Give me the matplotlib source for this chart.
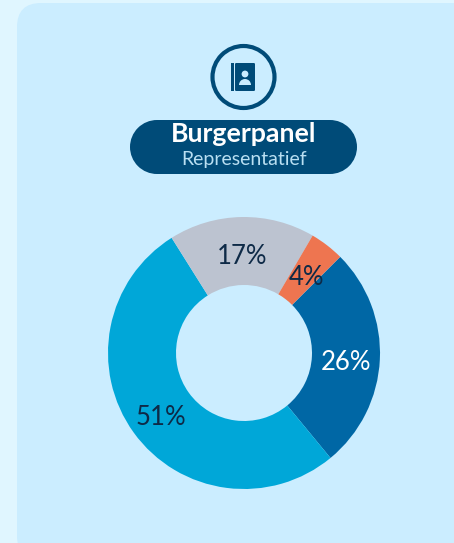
import matplotlib
matplotlib.use('Agg')
import matplotlib.pyplot as plt
from matplotlib.patches import FancyBboxPatch, Circle, Rectangle, Wedge

# share per answer, clockwise from the blue slice
labels = ['26%', '51%', '17%', '4%']
values = [26, 51, 17, 4]
colors = ['#0067a5', '#00a7d8', '#bcc3d0', '#ee7550']
label_colors = ['white', '#0e2a47', '#0e2a47', '#0e2a47']

title = 'Burgerpanel'
subtitle = 'Representatief'

W, H = 454, 543
DARK = '#004b78'
PANEL = '#cbedff'

fig = plt.figure(figsize=(W / 100, H / 100), dpi=100, facecolor='#e0f6ff')
ax = fig.add_axes([0, 0, 1, 1])


def y(py):
    # picture rows run downward, the axes run upward
    return H - py


# panel behind everything
ax.add_patch(FancyBboxPatch((17, y(560)), 470, 557, boxstyle='round,pad=0,rounding_size=24',
                            fc=PANEL, ec='none'))

# icon ring and contact book
ax.add_patch(Circle((243.5, y(77)), 31, fc='none', ec=DARK, lw=3))
ax.add_patch(Rectangle((231, y(91)), 2.5, 28, fc=DARK, ec='none'))
ax.add_patch(FancyBboxPatch((235, y(91)), 20, 28, boxstyle='round,pad=0,rounding_size=1.2',
                            fc=DARK, ec='none'))
ax.add_patch(Circle((245, y(74)), 3.4, fc=PANEL, ec='none'))
ax.add_patch(Wedge((245, y(85)), 6, 0, 180, fc=PANEL, ec='none'))

# title pill, two end caps and a bar
ax.add_patch(Rectangle((157, y(174)), 173, 54, fc=DARK, ec='none'))
ax.add_patch(Circle((157, y(147)), 27, fc=DARK, ec='none'))
ax.add_patch(Circle((330, y(147)), 27, fc=DARK, ec='none'))
ax.text(244, y(134), title, color='white', fontsize=19.3, fontweight='bold',
        family='Lato', ha='center', va='center')
ax.text(244, y(159), subtitle, color='#b9dff2', fontsize=14, fontweight='normal',
        family='Lato', ha='center', va='center')

# donut
wedges, texts = ax.pie(values, labels=labels, colors=colors, startangle=45, counterclock=False,
                       center=(244, y(353)), radius=136, labeldistance=0.75,
                       wedgeprops={'width': 68, 'linewidth': 0},
                       textprops={'fontsize': 18.5, 'family': 'Lato'})
for t, c in zip(texts, label_colors):
    t.set_color(c)
    t.set_ha('center')
    t.set_va('center')
    # the labels sit a little below the ring's centre line
    t.set_y(t.get_position()[1] - 5)

ax.set_xlim(0, W)
ax.set_ylim(0, H)
ax.axis('off')

fig.savefig('out.png', dpi=100, facecolor=fig.get_facecolor())
